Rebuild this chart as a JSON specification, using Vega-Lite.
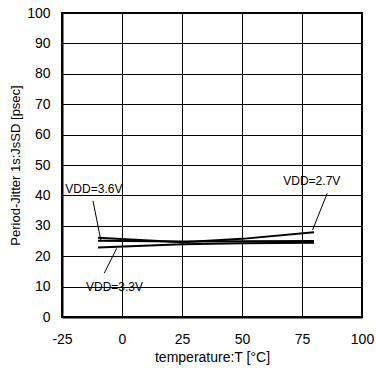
{
  "$schema": "https://vega.github.io/schema/vega-lite/v6.json",
  "autosize": "none",
  "width": 300,
  "height": 304,
  "padding": {"left": 62, "top": 13, "right": 14, "bottom": 55},
  "background": "white",
  "config": {
    "font": "Liberation Sans",
    "view": {"stroke": "black", "strokeWidth": 2},
    "axis": {
      "labelFont": "Liberation Sans",
      "titleFont": "Liberation Sans",
      "labelColor": "black",
      "titleColor": "black",
      "labelFontSize": 14,
      "titleFontSize": 13,
      "titleFontWeight": "normal",
      "labelOverlap": false,
      "labelBound": false,
      "labelFlush": false,
      "grid": true,
      "gridColor": "black",
      "gridOpacity": 1,
      "gridWidth": 1,
      "domainColor": "black",
      "domainWidth": 2,
      "ticks": false
    }
  },
  "encoding": {
    "x": {"field": "T", "type": "quantitative",
          "scale": {"domain": [-25, 100], "nice": false},
          "axis": {"values": [-25, 0, 25, 50, 75, 100], "labelExpr": "'' + datum.value", "title": "temperature:T [°C]", "titleFontSize": 14, "labelPadding": 15, "titlePadding": 4}},
    "y": {"field": "J", "type": "quantitative",
          "scale": {"domain": [0, 100], "nice": false},
          "axis": {"values": [0, 10, 20, 30, 40, 50, 60, 70, 80, 90, 100], "title": "Period-Jitter 1s:JsSD [psec]", "labelPadding": 12, "titlePadding": 4}}
  },
  "layer": [
    {
      "data": {"values": [
        {"T": -10, "J": 26.1, "s": "2.7V"},
        {"T": 25, "J": 24.6, "s": "2.7V"},
        {"T": 50, "J": 25.7, "s": "2.7V"},
        {"T": 80, "J": 27.9, "s": "2.7V"},
        {"T": -10, "J": 25.1, "s": "3.6V"},
        {"T": 25, "J": 24.8, "s": "3.6V"},
        {"T": 50, "J": 24.9, "s": "3.6V"},
        {"T": 80, "J": 25.0, "s": "3.6V"},
        {"T": -10, "J": 22.9, "s": "3.3V"},
        {"T": 25, "J": 23.9, "s": "3.3V"},
        {"T": 50, "J": 24.3, "s": "3.3V"},
        {"T": 80, "J": 24.4, "s": "3.3V"}
      ]},
      "mark": {"type": "line", "color": "black", "strokeWidth": 2},
      "encoding": {"detail": {"field": "s"}}
    },
    {
      "data": {"values": [
        {"T": -12.1, "J": 38.2, "T2": -8.75, "J2": 25.0},
        {"T": -7.4, "J": 14.4, "T2": -2.2, "J2": 22.6},
        {"T": 85.5, "J": 40.7, "T2": 79.4, "J2": 28.6}
      ]},
      "mark": {"type": "rule", "color": "black", "strokeWidth": 1},
      "encoding": {
        "x2": {"field": "T2"},
        "y2": {"field": "J2"}
      }
    },
    {
      "data": {"values": [
        {"T": -23.6, "J": 42.1, "t": "VDD=3.6V"},
        {"T": -15, "J": 10, "t": "VDD=3.3V"},
        {"T": 67.2, "J": 44.8, "t": "VDD=2.7V"}
      ]},
      "mark": {"type": "text", "align": "left", "baseline": "middle", "fontSize": 12, "color": "black", "font": "Liberation Sans"},
      "encoding": {"text": {"field": "t"}}
    }
  ]
}
